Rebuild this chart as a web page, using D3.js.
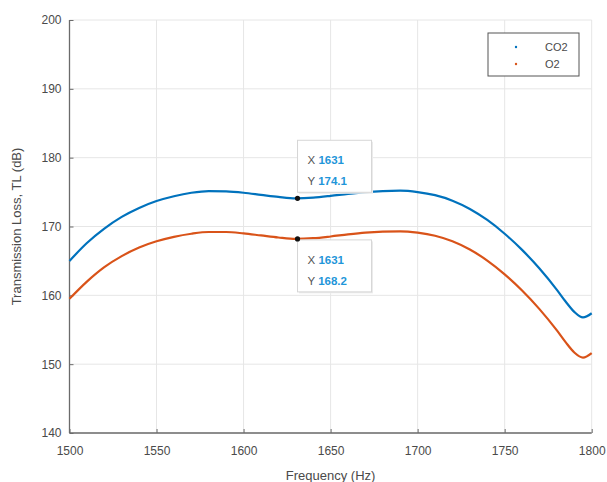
<!DOCTYPE html>
<html><head><meta charset="utf-8">
<script src="https://cdn.jsdelivr.net/npm/d3@7"></script>
<style>body{margin:0;background:#fff;} svg{display:block;font-family:"Liberation Sans",Arial,sans-serif;}</style>
</head><body>
<svg id="c" width="607" height="482"></svg>
<script>
const freqs = [1500,1510,1520,1530,1540,1550,1560,1570,1580,1590,1600,1610,1620,1630,1640,1650,1660,1670,1680,1690,1700,1710,1720,1730,1740,1750,1760,1770,1780,1785,1790,1795,1800];
const co2 = [165.0,167.6,169.7,171.4,172.7,173.7,174.4,174.9,175.15,175.1,174.9,174.6,174.3,174.1,174.2,174.45,174.75,175.0,175.15,175.2,175.0,174.55,173.75,172.55,170.95,168.95,166.6,163.9,160.8,159.1,157.6,156.8,157.4];
const o2  = [159.5,162.0,164.1,165.7,166.95,167.85,168.5,168.95,169.2,169.2,169.0,168.7,168.4,168.2,168.3,168.55,168.85,169.1,169.25,169.3,169.1,168.65,167.85,166.65,165.05,163.05,160.7,158.0,154.9,153.2,151.7,150.95,151.6];
const seriesNames = ["CO2","O2"];
const xTicks = [1500,1550,1600,1650,1700,1750,1800];
const yTicks = [140,150,160,170,180,190,200];
const tipFreq = 1631;
const tipValues = [174.1, 168.2];

const svg = d3.select("#c");
const L=69.5, R=591.7, T=20, B=433;
const x = d3.scaleLinear().domain([1500,1800]).range([L,R]);
const y = d3.scaleLinear().domain([140,200]).range([B,T]);
const colors = ["#0072BD","#D95319"];
const axisCol = "#6b6b6b", textCol = "#4a4a4a";

// grid
svg.append("g").selectAll("line").data(xTicks).join("line")
  .attr("x1",d=>x(d)).attr("x2",d=>x(d)).attr("y1",T).attr("y2",B)
  .attr("stroke","#e6e6e6").attr("stroke-width",1);
svg.append("g").selectAll("line").data(yTicks).join("line")
  .attr("x1",L).attr("x2",R).attr("y1",d=>y(d)).attr("y2",d=>y(d))
  .attr("stroke","#e6e6e6").attr("stroke-width",1);

// axes
const xAxis = d3.axisBottom(x).tickValues(xTicks).tickSize(-4).tickPadding(13).tickFormat(d3.format("d"));
const gx = svg.append("g").attr("transform",`translate(0,${B})`).call(xAxis);
const yAxis = d3.axisLeft(y).tickValues(yTicks).tickSize(-4).tickPadding(8).tickFormat(d3.format("d"));
const gy = svg.append("g").attr("transform",`translate(${L},0)`).call(yAxis);
[gx,gy].forEach(g=>{
  g.select(".domain").attr("stroke",axisCol).attr("stroke-width",1.3);
  g.selectAll(".tick line").attr("stroke",axisCol);
  g.selectAll(".tick text").attr("fill",textCol).attr("font-size",12);
});
gx.select(".domain").attr("d",`M${L},0H${R}`);
gy.select(".domain").attr("d",`M0,${B}V${T}`);

// labels
svg.append("text").attr("x",(L+R)/2).attr("y",480).attr("text-anchor","middle")
  .attr("fill",textCol).attr("font-size",13).text("Frequency (Hz)");
svg.append("text").attr("transform",`translate(21,${(T+B)/2}) rotate(-90)`).attr("text-anchor","middle")
  .attr("fill",textCol).attr("font-size",13).text("Transmission Loss, TL (dB)");

// lines
const line = d3.line().x((d,i)=>x(freqs[i])).y(d=>y(d)).curve(d3.curveMonotoneX);
[co2,o2].forEach((s,k)=>{
  svg.append("path").attr("d",line(s)).attr("fill","none")
    .attr("stroke",colors[k]).attr("stroke-width",2.2);
});

// legend
const lg = svg.append("g");
lg.append("rect").attr("x",488).attr("y",33).attr("width",91).attr("height",43)
  .attr("fill","#fff").attr("stroke","#555").attr("stroke-width",1);
seriesNames.forEach((n,i)=>{
  lg.append("circle").attr("cx",516).attr("cy",47+i*17).attr("r",1.2).attr("fill",colors[i]);
  lg.append("text").attr("x",545).attr("y",51+i*17).attr("fill",textCol).attr("font-size",11).text(n);
});

// datatips
tipValues.forEach((v,i)=>{
  const px = x(tipFreq), py = y(v);
  const bw = 74, bh = 52;
  const bx = px, by = i===0 ? py-bh-6 : py+1;
  const g = svg.append("g");
  g.append("rect").attr("x",bx+1.5).attr("y",by+1.5).attr("width",bw).attr("height",bh).attr("fill","#ececec");
  g.append("rect").attr("x",bx).attr("y",by).attr("width",bw).attr("height",bh)
    .attr("fill","#fff").attr("stroke","#d6d6d6").attr("stroke-width",1);
  const t1 = g.append("text").attr("x",bx+10).attr("y",by+24).attr("font-size",11.5);
  t1.append("tspan").attr("fill","#555").text("X ");
  t1.append("tspan").attr("fill","#1f96d9").attr("font-weight","bold").text(String(tipFreq));
  const t2 = g.append("text").attr("x",bx+10).attr("y",by+45).attr("font-size",11.5);
  t2.append("tspan").attr("fill","#555").text("Y ");
  t2.append("tspan").attr("fill","#1f96d9").attr("font-weight","bold").text(v.toFixed(1));
  svg.append("circle").attr("cx",px).attr("cy",py).attr("r",2.6).attr("fill","#111");
});
</script>
</body></html>
